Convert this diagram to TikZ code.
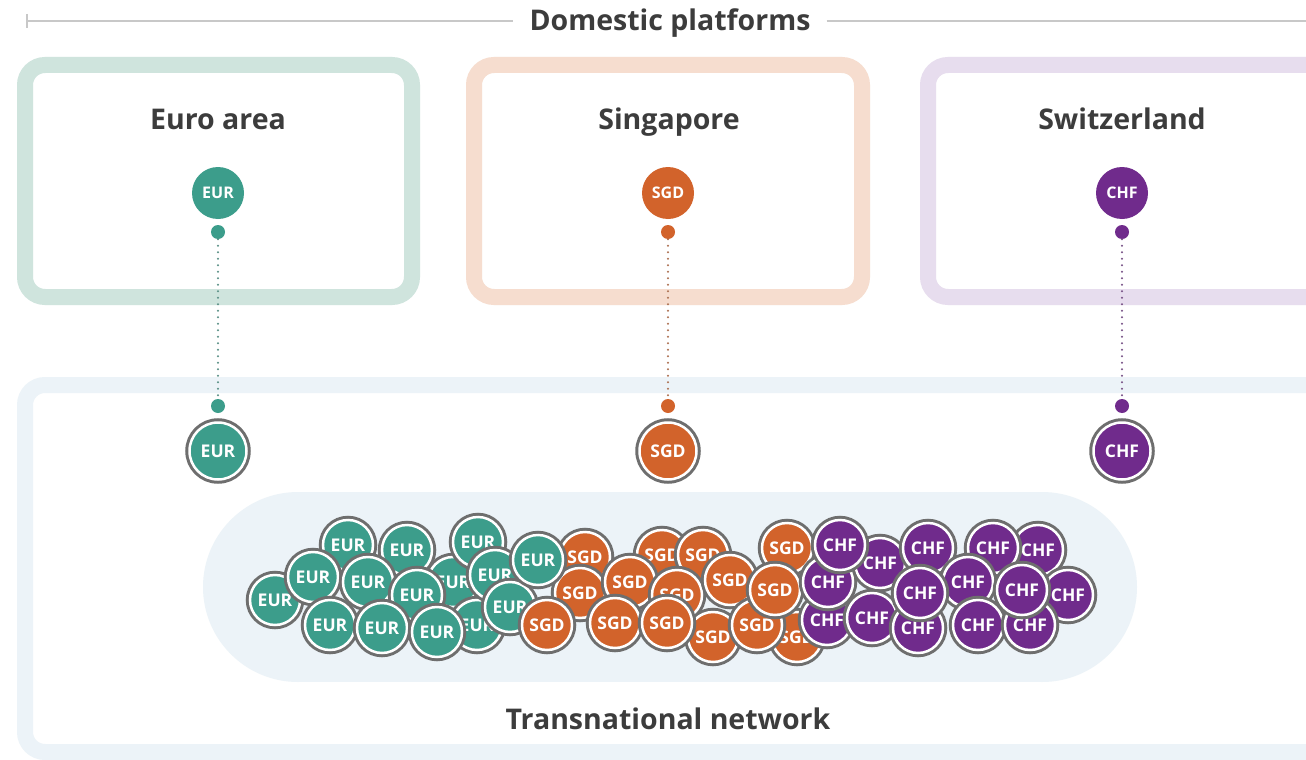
\documentclass[tikz,border=0pt]{standalone}
\usepackage{fontspec}
\setmainfont{Open Sans}
\definecolor{eurc}{HTML}{3C9D8B}
\definecolor{sgdc}{HTML}{D2632B}
\definecolor{chfc}{HTML}{702B8C}
\definecolor{eurbox}{HTML}{CFE4DD}
\definecolor{sgdbox}{HTML}{F6DDCF}
\definecolor{chfbox}{HTML}{E7DDEE}
\definecolor{netbox}{HTML}{ECF3F8}
\definecolor{ringgrey}{HTML}{6E6E6E}
\definecolor{txtgrey}{HTML}{3C3C3C}
\definecolor{linegrey}{HTML}{C8C8C8}
\begin{document}
\begin{tikzpicture}[x=1pt,y=-1pt,
		frame/.style={line width=16pt,rounded corners=20pt},
		title/.style={font=\bfseries\fontsize{28.5}{32}\selectfont,text=txtgrey,text height=20pt,text depth=1pt},
		topcoin/.style={circle,minimum size=52pt,inner sep=0pt,fill=#1,text=white,font=\bfseries\fontsize{16}{18}\selectfont},
		pin/.style={circle,minimum size=14pt,inner sep=0pt,fill=#1},
		coin/.style={circle,minimum size=50pt,inner sep=0pt,fill=#1,draw=white,line width=2.5pt,
				text=white,font=\bfseries\fontsize{17.5}{19}\selectfont,
				preaction={draw=ringgrey,line width=8.5pt}},
		bigcoin/.style={coin=#1,minimum size=57pt},
		dotline/.style={#1!55!gray,line width=2.2pt,line cap=round,dash pattern=on 0pt off 6.5pt}
	]
	\clip (0,0) rectangle (1306,760);
	\fill[white] (0,0) rectangle (1306,760);

	% domestic platforms header
	\node[title,inner xsep=16pt] (hdr) at (670,21) {Domestic platforms};
	\coordinate (hstart) at (27,21);
	\coordinate (hend) at (1310,21);
	\draw[linegrey,line width=2pt] (hstart) -- (hdr.west) (hdr.east) -- (hend);
	\draw[linegrey,line width=2pt] (27,14) -- (27,28);

	% platform boxes
	\draw[frame,eurbox] (25,65) rectangle (412,297);
	\draw[frame,sgdbox] (474,65) rectangle (862,297);
	\draw[frame,chfbox] (928,65) rectangle (1340,297);
	\node[title] (eurtitle) at (218,120) {Euro area};
	\node[title] (sgdtitle) at (669,120) {Singapore};
	\node[title] (chftitle) at (1122,120) {Switzerland};

	% transnational network box
	\draw[frame,netbox] (25,385) rectangle (1340,752);
	\fill[netbox] (298,492) rectangle (1042,682);
	\fill[netbox] (298,587) circle[radius=95];
	\fill[netbox] (1042,587) circle[radius=95];
	\node[title] (nettitle) at (668,720) {Transnational network};

	% domestic coins and links
	\foreach \n/\x/\c/\t in {eur/218/eurc/EUR,sgd/668/sgdc/SGD,chf/1122/chfc/CHF} {
		\node[topcoin=\c] (\n top) at (\x,193) {\t};
		\node[pin=\c] (\n pinA) at (\x,232) {};
		\node[pin=\c] (\n pinB) at (\x,406) {};
		\node[bigcoin=\c] (\n net) at (\x,451) {\t};
		\draw[dotline=\c] (\n pinA) -- (\n pinB);
	}

	% pooled coins
	\foreach \x/\y/\c/\t [count=\i] in {
			453/582/eurc/EUR,477/625/eurc/EUR,478/542/eurc/EUR,495/575/eurc/EUR,
			510/607/eurc/EUR,275/600/eurc/EUR,348/545/eurc/EUR,407/550/eurc/EUR,
			313/577/eurc/EUR,368/582/eurc/EUR,417/595/eurc/EUR,330/625/eurc/EUR,
			382/628/eurc/EUR,437/632/eurc/EUR,
			585/557/sgdc/SGD,580/593/sgdc/SGD,
			538/560/eurc/EUR,
			547/625/sgdc/SGD,662/555/sgdc/SGD,703/555/sgdc/SGD,630/582/sgdc/SGD,
			677/595/sgdc/SGD,615/623/sgdc/SGD,713/637/sgdc/SGD,667/623/sgdc/SGD,
			730/580/sgdc/SGD,787/548/sgdc/SGD,797/637/sgdc/SGD,757/625/sgdc/SGD,
			775/590/sgdc/SGD,
			1038/550/chfc/CHF,1068/595/chfc/CHF,993/548/chfc/CHF,880/563/chfc/CHF,
			827/620/chfc/CHF,828/582/chfc/CHF,840/545/chfc/CHF,872/618/chfc/CHF,
			928/548/chfc/CHF,968/582/chfc/CHF,918/628/chfc/CHF,978/625/chfc/CHF,
			1030/625/chfc/CHF,920/593/chfc/CHF,1022/590/chfc/CHF} {
		\node[coin=\c] (pool\i) at (\x,\y) {\t};
	}
\end{tikzpicture}
\end{document}
